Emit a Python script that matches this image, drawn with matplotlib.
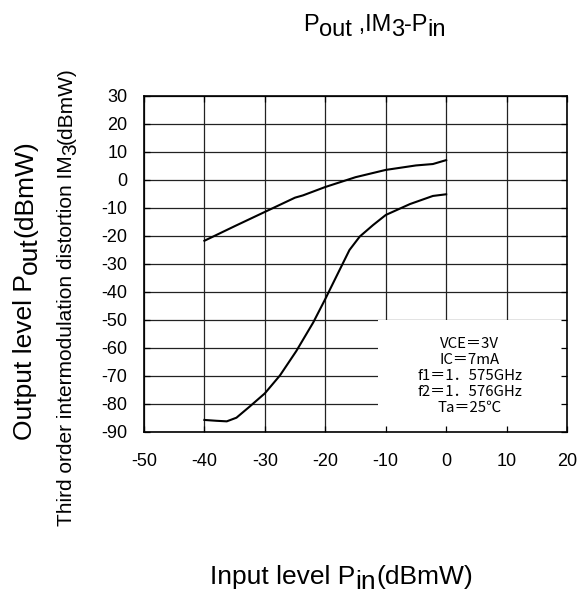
import matplotlib
matplotlib.use("Agg")
import matplotlib.pyplot as plt
from matplotlib.patches import Rectangle

pin_out = [-40, -35, -30, -25, -23.7, -20, -15, -10, -5, -2.2, 0]
pout = [-21.7, -16.5, -11.4, -6.3, -5.5, -2.5, 1.0, 3.6, 5.2, 5.7, 7.1]

pin_im3 = [-40, -38, -36.3, -34.7, -32.5, -30, -27.5, -24.8, -22.0, -20, -19.0,
           -17.1, -16.0, -14.3, -12.1, -10, -6.0, -2.2, 0]
im3 = [-85.7, -86.0, -86.2, -84.9, -80.9, -76.2, -69.8, -61.1, -50.9, -42.5, -38.1,
       -29.8, -25.0, -20.2, -16.1, -12.5, -8.6, -5.7, -5.1]

xticks = list(range(-50, 21, 10))
yticks = list(range(-90, 31, 10))
conditions = ["VCE＝3V", "IC＝7mA", "f1＝1．575GHz", "f2＝1．576GHz", "Ta＝25℃"]

plt.rcParams['font.family'] = ['Liberation Sans', 'DejaVu Sans']
plt.rcParams['axes.unicode_minus'] = False

W, H = 581, 597
fig = plt.figure(figsize=(W / 100, H / 100), dpi=100)
ax = fig.add_axes([0.2478, 0.2764, 0.7282, 0.5628])

ax.set_xlim(-50, 20)
ax.set_ylim(-90, 30)
ax.set_xticks(xticks)
ax.set_yticks(yticks)

# grid drawn by hand so the condition box can sit on top of it
ax.vlines(xticks, -90, 30, color='#222222', lw=0.9, zorder=1.2)
ax.hlines(yticks, -50, 20, color='#222222', lw=0.9, zorder=1.2)
ax.add_patch(Rectangle((-11.3, -90), 31.3, 40, facecolor='white', edgecolor='none', zorder=1.5))

ax.plot(pin_out, pout, color='black', lw=1.5, zorder=2)
ax.plot(pin_im3, im3, color='black', lw=1.5, zorder=2)

ax.text(3.9, -70, "\n".join(conditions), ha='center', va='center', fontsize=10.8,
        linespacing=1.18, family=['Noto Sans CJK JP', 'DejaVu Sans'], zorder=3)

ax.set_axisbelow(False)
ax.tick_params(direction='in', length=4, width=0.9, top=True, right=True, labelsize=13)
ax.tick_params(axis='y', pad=12)
ax.tick_params(axis='x', pad=15)
for s in ax.spines.values():
    s.set_linewidth(1.2)

renderer = fig.canvas.get_renderer()


def chain_label(x, y, parts, size, vertical=False):
    # text with full-size lowered subscripts, laid out piece by piece
    # x, y: start of the baseline in pixels from the top-left corner
    drop = 0.2 * size * 100 / 72
    pos = x if not vertical else y
    for txt, sub in parts:
        if vertical:
            bx = x + (drop if sub else 0)
            t = fig.text(bx / W, 1 - pos / H, txt, fontsize=size, rotation=90,
                         rotation_mode='anchor', ha='left', va='baseline')
            bb = t.get_window_extent(renderer)
            pos = H - bb.y1
        else:
            by = y + (drop if sub else 0)
            t = fig.text(pos / W, 1 - by / H, txt, fontsize=size,
                         ha='left', va='baseline')
            bb = t.get_window_extent(renderer)
            pos = bb.x1


chain_label(303, 31, [("P", False), ("out", True), (" ,IM", False), ("3", True),
                      ("-P", False), ("in", True)], 17)
chain_label(210, 584, [("Input level P", False), ("in", True), ("(dBmW)", False)], 19)
chain_label(32, 440, [("Output level P", False), ("out", True), ("(dBmW)", False)], 19,
            vertical=True)
chain_label(72, 526, [("Third order intermodulation distortion IM", False), ("3", True),
                      ("(dBmW)", False)], 15, vertical=True)

fig.savefig("out.png", dpi=100)
